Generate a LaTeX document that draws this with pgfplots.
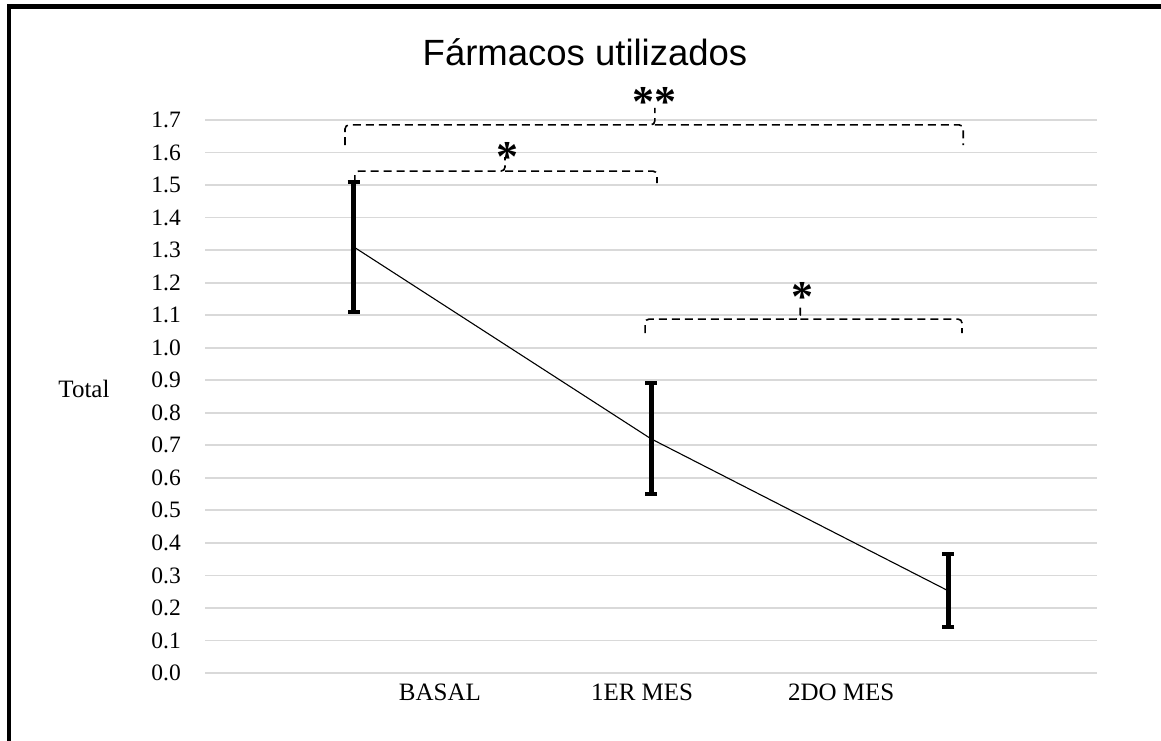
\documentclass[border=0pt]{standalone}
\usepackage{pgfplots}
\pgfplotsset{compat=1.18}
\usepackage{fontspec}
\setmainfont{Liberation Serif}
\newfontfamily\titlefont{Liberation Sans}
\definecolor{gridgray}{HTML}{D9D9D9}
\newcommand\tickfont{\fontsize{23.5pt}{26pt}\selectfont}
\newcommand\labfont{\fontsize{25pt}{28pt}\selectfont}
\begin{document}
\begin{tikzpicture}[x=1pt,y=1pt]
\useasboundingbox (0,0) rectangle (1161,741);
% frame
\draw[line width=4.5pt] (9.2,-5) -- (9.2,734.3) -- (1170,734.3);
% title
\node[anchor=base, inner sep=0pt, font=\titlefont\fontsize{36.5pt}{40pt}\selectfont] at (585,675) {Fármacos utilizados};
% y label
\node[anchor=center, inner sep=0pt, font=\labfont] at (84,352) {Total};
\begin{axis}[
  at={(205pt,68pt)}, anchor=south west,
  scale only axis, width=892pt, height=553pt,
  xmin=-0.5, xmax=2.5, ymin=0, ymax=1.7,
  clip=false,
  axis line style={draw=none},
  major tick length=0pt,
  ytick={0,0.1,0.2,0.3,0.4,0.5,0.6,0.7,0.8,0.9,1.0,1.1,1.2,1.3,1.4,1.5,1.6,1.7},
  yticklabel style={/pgf/number format/.cd, fixed, fixed zerofill, precision=1, /tikz/.cd, anchor=east, inner sep=0pt, xshift=-24pt, font=\tickfont},
  /pgf/number format/assume math mode=true,
  xtick={0.29,0.97,1.64},
  xticklabels={BASAL,1ER MES,2DO MES},
  xticklabel style={anchor=north, inner sep=0pt, yshift=-11pt, font=\labfont},
  ymajorgrids, xmajorgrids=false,
  grid style={draw=gridgray, line width=1.8pt},
]
% mean line
\addplot[black, line width=1.1pt, no markers] coordinates {(0,1.31) (1,0.72) (2,0.2525)};
% error bars
\addplot[draw=none, no markers,
  error bars/.cd, y dir=both, y explicit,
  error bar style={line width=5pt, black},
  error mark options={rotate=90, mark size=6pt, line width=4pt, black}]
  coordinates {(0,1.31) +- (0,0.20) (1,0.72) +- (0,0.17) (2,0.2525) +- (0,0.1125)};
% significance brackets
\draw[dashed, dash pattern=on 8pt off 5pt, line width=1.6pt, rounded corners=4pt]
  (axis cs:-0.029,1.623) -- (axis cs:-0.029,1.685) -- (axis cs:1.013,1.685) -- (axis cs:1.013,1.737);
\draw[dashed, dash pattern=on 8pt off 5pt, line width=1.6pt, rounded corners=4pt]
  (axis cs:1.013,1.685) -- (axis cs:2.050,1.685) -- (axis cs:2.050,1.623);
\draw[dashed, dash pattern=on 8pt off 5pt, line width=1.6pt, rounded corners=4pt]
  (axis cs:0.004,1.506) -- (axis cs:0.004,1.543) -- (axis cs:0.509,1.543) -- (axis cs:0.509,1.586);
\draw[dashed, dash pattern=on 8pt off 5pt, line width=1.6pt, rounded corners=4pt]
  (axis cs:0.509,1.543) -- (axis cs:1.020,1.543) -- (axis cs:1.020,1.506);
\draw[dashed, dash pattern=on 8pt off 5pt, line width=1.6pt, rounded corners=4pt]
  (axis cs:0.980,1.045) -- (axis cs:0.980,1.088) -- (axis cs:1.502,1.088) -- (axis cs:1.502,1.137);
\draw[dashed, dash pattern=on 8pt off 5pt, line width=1.6pt, rounded corners=4pt]
  (axis cs:1.502,1.088) -- (axis cs:2.046,1.088) -- (axis cs:2.046,1.045);
\node[font=\fontsize{44pt}{48pt}\selectfont\bfseries, inner sep=0pt] at (axis cs:1.013,1.755) {**};
\node[font=\fontsize{44pt}{48pt}\selectfont\bfseries, inner sep=0pt] at (axis cs:0.516,1.585) {*};
\node[font=\fontsize{44pt}{48pt}\selectfont\bfseries, inner sep=0pt] at (axis cs:1.508,1.155) {*};
\end{axis}
\end{tikzpicture}
\end{document}
